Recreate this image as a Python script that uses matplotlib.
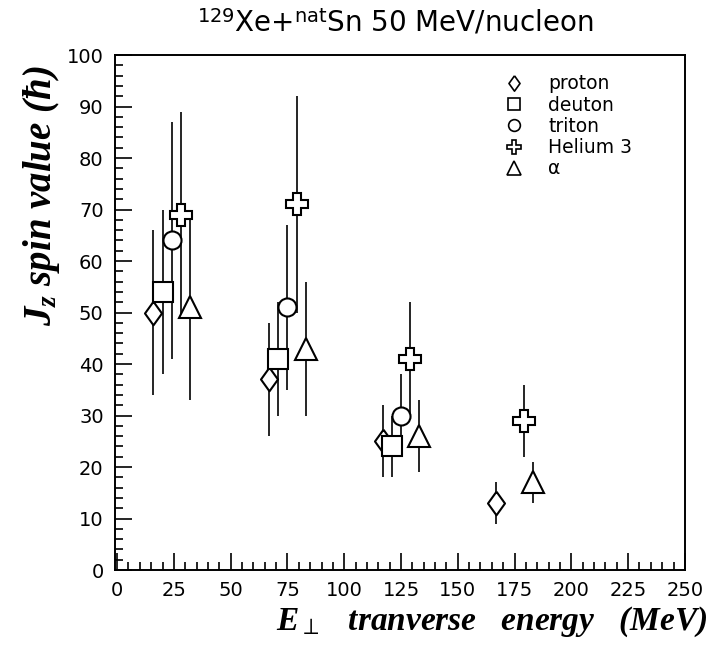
import matplotlib.pyplot as plt
from matplotlib.lines import Line2D
from matplotlib.ticker import MultipleLocator

# transverse energy bins (MeV), spin value and error for each particle
proton_x = [16, 67, 117, 167]
proton_y = [50, 37, 25, 13]
proton_err = [16, 11, 7, 4]

deuton_x = [20, 71, 121]
deuton_y = [54, 41, 24]
deuton_err = [16, 11, 6]

triton_x = [24, 75, 125]
triton_y = [64, 51, 30]
triton_err = [23, 16, 8]

helium3_x = [28, 79, 129, 179]
helium3_y = [69, 71, 41, 29]
helium3_err = [20, 21, 11, 7]

alpha_x = [32, 83, 133, 183]
alpha_y = [51, 43, 26, 17]
alpha_err = [18, 13, 7, 4]

plt.rcParams["mathtext.fontset"] = "custom"
plt.rcParams["mathtext.it"] = "Liberation Serif:bold:italic"
plt.rcParams["mathtext.rm"] = "Liberation Serif:bold:italic"
plt.rcParams["mathtext.sf"] = "DejaVu Sans"

# open diamond, a bit wider than matplotlib's thin diamond
diamond = [(0, 1), (0.72, 0), (0, -1), (-0.72, 0), (0, 1)]

series = [
    ("proton", proton_x, proton_y, proton_err, diamond, 17),
    ("deuton", deuton_x, deuton_y, deuton_err, "s", 14),
    ("triton", triton_x, triton_y, triton_err, "o", 13),
    ("Helium 3", helium3_x, helium3_y, helium3_err, "P", 16),
    ("\u03b1", alpha_x, alpha_y, alpha_err, "^", 16),
]

fig = plt.figure(figsize=(7.09, 6.51), dpi=100)
ax = fig.add_axes([0.162, 0.1244, 0.804, 0.7911])

handles = []
for name, x, y, err, marker, ms in series:
    ax.errorbar(x, y, yerr=err, fmt="none", ecolor="black", elinewidth=1.2,
                capsize=0, zorder=2)
    ax.plot(x, y, linestyle="none", marker=marker, markersize=ms,
            markerfacecolor="white", markeredgecolor="black",
            markeredgewidth=1.5, zorder=3)
    handles.append(Line2D([], [], linestyle="none", marker=marker,
                          markersize=ms * 0.65, markerfacecolor="white",
                          markeredgecolor="black", markeredgewidth=1.2,
                          label=name))

ax.set_xlim(-1, 250)
ax.set_ylim(0, 100)
ax.xaxis.set_major_locator(MultipleLocator(25))
ax.xaxis.set_minor_locator(MultipleLocator(5))
ax.yaxis.set_major_locator(MultipleLocator(10))
ax.yaxis.set_minor_locator(MultipleLocator(2))
ax.tick_params(which="both", direction="in", top=False, right=False,
               width=1.2, labelsize=14, pad=8)
ax.tick_params(which="major", length=12)
ax.tick_params(which="minor", length=6)
for s in ax.spines.values():
    s.set_linewidth(1.4)

ax.legend(handles=handles, loc="upper left", bbox_to_anchor=(0.655, 0.995),
          frameon=False, fontsize=13.5, handletextpad=1.3, labelspacing=0.12,
          handlelength=1.0)

fig.text(0.557, 0.965, r"$^{\mathsf{129}}$Xe+$^{\mathsf{nat}}$Sn 50 MeV/nucleon",
         ha="center", va="center", fontsize=20)

label_font = dict(family="Liberation Serif", weight="bold", style="italic")
fig.text(0.998, 0.045, r"$E_{\perp}$   tranverse   energy   (MeV)",
         ha="right", va="center", fontsize=24, **label_font)
fig.text(0.058, 0.9, r"$J_{z}$ spin value ($\hbar$)",
         ha="center", va="top", rotation=90, fontsize=28, **label_font)

fig.savefig("out.png", dpi=100)
